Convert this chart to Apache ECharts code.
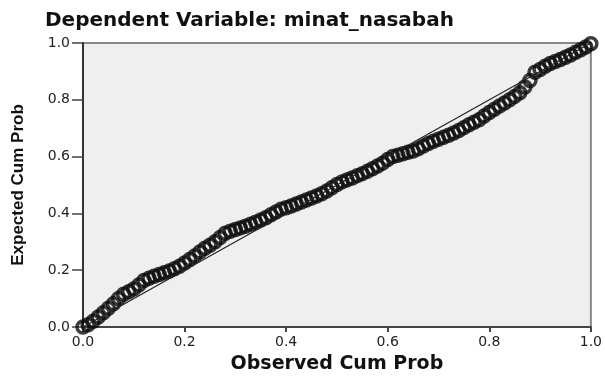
<!DOCTYPE html>
<html>
<head>
<meta charset="utf-8">
<script src="https://cdn.jsdelivr.net/npm/echarts@6/dist/echarts.min.js"></script>
<style>
  html, body { margin: 0; padding: 0; background: #fff; }
  #chart { width: 605px; height: 379px; }
</style>
</head>
<body>
<div id="chart"></div>
<script>
// observed cumulative probability (x) and expected cumulative probability (y)
const obsProb = [
  0.00, 0.01, 0.02, 0.03, 0.04, 0.05, 0.06, 0.07, 0.08, 0.09,
  0.10, 0.11, 0.12, 0.13, 0.14, 0.15, 0.16, 0.17, 0.18, 0.19,
  0.20, 0.21, 0.22, 0.23, 0.24, 0.25, 0.26, 0.27, 0.28, 0.29,
  0.30, 0.31, 0.32, 0.33, 0.34, 0.35, 0.36, 0.37, 0.38, 0.39,
  0.40, 0.41, 0.42, 0.43, 0.44, 0.45, 0.46, 0.47, 0.48, 0.49,
  0.50, 0.51, 0.52, 0.53, 0.54, 0.55, 0.56, 0.57, 0.58, 0.59,
  0.60, 0.61, 0.62, 0.63, 0.64, 0.65, 0.66, 0.67, 0.68, 0.69,
  0.70, 0.71, 0.72, 0.73, 0.74, 0.75, 0.76, 0.77, 0.78, 0.79,
  0.80, 0.81, 0.82, 0.83, 0.84, 0.85, 0.86, 0.87, 0.88, 0.89,
  0.90, 0.91, 0.92, 0.93, 0.94, 0.95, 0.96, 0.97, 0.98, 0.99, 1.00
];
const expProb = [
  0.000, 0.008, 0.020, 0.035, 0.050, 0.066, 0.082, 0.100, 0.115, 0.124,
  0.134, 0.148, 0.164, 0.172, 0.179, 0.185, 0.191, 0.197, 0.205, 0.214,
  0.225, 0.238, 0.250, 0.264, 0.277, 0.288, 0.300, 0.315, 0.330, 0.337,
  0.343, 0.349, 0.355, 0.362, 0.369, 0.377, 0.385, 0.395, 0.405, 0.415,
  0.420, 0.426, 0.433, 0.440, 0.447, 0.454, 0.461, 0.469, 0.479, 0.490,
  0.502, 0.511, 0.518, 0.525, 0.533, 0.540, 0.548, 0.557, 0.567, 0.577,
  0.590, 0.600, 0.605, 0.610, 0.615, 0.620, 0.628, 0.637, 0.646, 0.654,
  0.661, 0.668, 0.675, 0.683, 0.692, 0.702, 0.712, 0.721, 0.730, 0.743,
  0.755, 0.767, 0.778, 0.789, 0.800, 0.812, 0.825, 0.845, 0.868, 0.897,
  0.907, 0.918, 0.928, 0.935, 0.942, 0.950, 0.958, 0.967, 0.976, 0.986, 0.997
];
// diagonal reference line
const refX = [0, 1];
const refY = [0, 1];

const chart = echarts.init(document.getElementById("chart"));

const points = obsProb.map((x, i) => [x, expProb[i]]);
const refLine = refX.map((x, i) => [x, refY[i]]);

const option = {
  animation: false,
  backgroundColor: "#fff",
  title: {
    text: "Dependent Variable: minat_nasabah",
    left: 40,
    top: 6,
    textStyle: {
      fontFamily: "DejaVu Sans",
      fontWeight: "bold",
      fontSize: 20,
      color: "#111",
    },
  },
  grid: {
    left: 83,
    top: 43,
    right: 8,
    bottom: 47,
    show: true,
    backgroundColor: "#efefef",
    borderColor: "#888",
    borderWidth: 2,
  },
  xAxis: {
    type: "value",
    min: 0,
    max: 1,
    interval: 0.2,
    name: "Observed Cum Prob",
    nameLocation: "middle",
    nameGap: 28,
    nameTextStyle: {
      fontFamily: "DejaVu Sans",
      fontWeight: "bold",
      fontSize: 19,
      color: "#111",
    },
    axisLine: { show: true, lineStyle: { color: "#444", width: 2 } },
    axisTick: { show: true, length: 5, lineStyle: { color: "#444", width: 2 } },
    axisLabel: {
      formatter: (v) => v.toFixed(1),
      fontFamily: "DejaVu Sans",
      fontSize: 14,
      color: "#222",
      margin: 8,
    },
    splitLine: { show: false },
  },
  yAxis: {
    type: "value",
    min: 0,
    max: 1,
    interval: 0.2,
    name: "Expected Cum Prob",
    nameLocation: "middle",
    nameGap: 56,
    nameTextStyle: {
      fontFamily: "Liberation Sans Narrow, Liberation Sans",
      fontWeight: "bold",
      fontSize: 17,
      color: "#111",
    },
    axisLine: { show: true, lineStyle: { color: "#333", width: 2 } },
    axisTick: { show: true, length: 11, lineStyle: { color: "#444", width: 1.5 } },
    axisLabel: {
      formatter: (v) => v.toFixed(1),
      fontFamily: "DejaVu Sans",
      fontSize: 14,
      color: "#222",
      margin: 13,
    },
    splitLine: { show: false },
  },
  series: [
    {
      name: "Reference",
      type: "line",
      data: refLine,
      symbol: "none",
      lineStyle: { color: "#222", width: 1.2 },
      z: 3,
    },
    {
      name: "Points",
      type: "scatter",
      data: points,
      symbol: "circle",
      symbolSize: 12,
      itemStyle: {
        color: "rgba(0,0,0,0)",
        borderColor: "#0d0d0d",
        borderWidth: 3.5,
      },
      z: 2,
    },
  ],
};

chart.setOption(option);
</script>
</body>
</html>
